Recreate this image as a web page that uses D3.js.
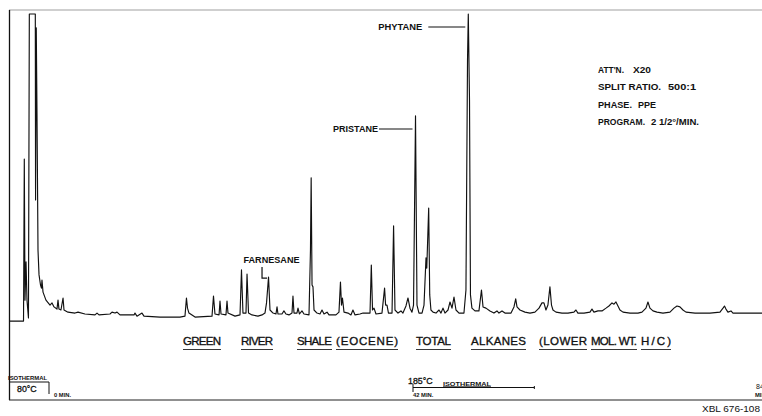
<!DOCTYPE html>
<html>
<head>
<meta charset="utf-8">
<script src="https://cdn.jsdelivr.net/npm/d3@7/dist/d3.min.js"></script>
<style>
  html, body { margin: 0; padding: 0; background: #fff; overflow: hidden; }
  svg { display: block; }
  text { font-family: "Liberation Sans", Arial, sans-serif; fill: #111; }
</style>
</head>
<body>
<svg id="chromatogram" width="762" height="416"></svg>
<script>
// Recorder trace: retention time (min) and response (% of full scale)
const traceMin = [
  -4.62, -2.94, -2.85, -2.77, -2.65, -2.54, -2.37, -2.27, -1.58, -1.55, -1.47, -1.38, -1.27, -1.15,
  -0.98, -0.87, -0.81, -0.69, -0.35, 0.12, 0.35, 0.58, 0.92, 1.04, 1.15, 1.38, 1.62, 1.73, 2.19,
  3.00, 3.35, 4.15, 5.31, 5.54, 5.77, 7.04, 7.27, 7.62, 7.85, 8.19, 9.81, 9.92, 10.15, 10.73, 10.96,
  12.81, 15.11, 15.69, 15.86, 15.98, 16.15, 16.85, 18.81, 18.98, 19.15, 19.62, 19.73, 19.85, 20.42,
  20.54, 20.65, 21.46, 22.04, 22.21, 22.38, 22.73, 22.85, 23.02, 23.42, 24.11, 24.58, 24.92, 25.10,
  25.33, 25.50, 25.85, 26.19, 26.31, 26.42, 26.88, 27.11, 27.34, 27.69, 28.04, 28.15, 28.27, 28.61,
  28.73, 28.90, 29.19, 29.42, 30.00, 30.17, 30.25, 30.35, 30.46, 30.58, 30.92, 31.27, 31.50, 31.73,
  32.08, 32.31, 33.11, 33.46, 33.63, 33.75, 33.86, 34.04, 34.50, 34.84, 35.07, 35.31, 35.88, 36.23,
  37.04, 37.19, 37.33, 37.50, 37.73, 38.42, 38.72, 38.84, 39.00, 39.17, 39.58, 39.76, 39.92, 40.27,
  40.61, 40.84, 41.19, 41.42, 41.65, 41.88, 42.06, 42.29, 42.46, 42.69, 43.04, 43.27, 43.50, 43.59,
  43.81, 43.93, 44.07, 44.31, 44.65, 45.00, 45.23, 45.46, 45.69, 46.04, 46.27, 46.50, 46.73, 46.96,
  47.31, 47.88, 48.11, 48.29, 48.38, 48.52, 48.63, 48.80, 49.15, 49.61, 49.90, 50.08, 50.42, 50.88,
  51.34, 51.69, 51.92, 52.27, 52.61, 53.31, 53.65, 53.85, 54.00, 54.34, 54.92, 55.50, 56.07, 56.54,
  56.88, 57.11, 57.34, 57.57, 57.80, 57.98, 58.15, 58.50, 59.19, 59.88, 60.57, 60.80, 61.03, 61.73,
  62.42, 62.65, 62.88, 63.34, 63.81, 64.27, 64.61, 64.96, 65.19, 65.42, 65.65, 65.88, 66.23, 67.04,
  67.96, 68.42, 68.88, 69.11, 69.34, 69.69, 70.15, 70.84, 71.65, 72.11, 72.46, 72.80, 73.15, 73.50,
  74.54, 76.27, 77.42, 77.77, 77.94, 78.11, 78.34, 78.69, 78.92, 80.88, 82.27
];
const traceResp = [
  0.3, 0.3, 52.9, 7.1, 19.5, 7.1, 1.3, 100, 100, 39.6, 95.5, 65.6, 23.4, 15.3,
  12.0, 11.0, 13.6, 9.7, 7.1, 5.5, 6.2, 4.9, 4.2, 7.1, 4.2, 3.9, 7.8, 3.9, 3.2,
  2.9, 3.2, 2.6, 2.3, 2.9, 2.3, 2.6, 3.2, 2.9, 3.2, 2.3, 2.3, 2.9, 1.9, 2.9, 1.9,
  1.6, 1.6, 1.9, 7.8, 4.5, 2.9, 1.6, 1.9, 8.4, 2.6, 2.3, 6.8, 2.6, 2.3,
  6.8, 2.9, 1.9, 2.3, 16.9, 2.9, 2.9, 15.6, 2.9, 2.3, 1.9, 2.3, 2.9, 6.2,
  14.6, 3.9, 2.9, 2.6, 4.9, 2.6, 2.6, 3.6, 2.6, 2.3, 2.9, 8.4, 2.9, 2.9,
  4.5, 2.6, 3.6, 2.6, 2.3, 23.4, 46.8, 12.0, 11.4, 3.9, 2.9, 2.6, 3.9, 2.6,
  3.2, 2.3, 2.3, 3.2, 13.0, 5.5, 7.8, 3.2, 2.9, 2.3, 3.9, 2.3, 2.6, 2.9,
  2.9, 18.5, 3.9, 4.5, 2.6, 2.9, 11.0, 5.5, 5.5, 2.9, 2.9, 31.2, 3.9, 2.9,
  3.6, 2.9, 5.2, 7.8, 4.5, 3.2, 5.5, 66.9, 5.5, 2.9, 2.9, 5.5, 20.8, 17.5,
  37.0, 8.8, 3.9, 3.2, 2.9, 3.9, 2.9, 4.5, 2.9, 3.9, 6.5, 4.5, 8.1, 3.9,
  2.9, 2.9, 10.4, 85.1, 100, 72.1, 8.8, 4.5, 3.6, 3.6, 10.4, 4.9, 4.5, 3.6,
  2.9, 3.6, 2.9, 3.6, 2.9, 2.9, 4.9, 7.5, 4.9, 3.9, 3.2, 2.9, 3.2, 4.5,
  6.2, 6.2, 3.9, 5.5, 11.4, 5.5, 3.9, 3.2, 2.9, 2.9, 3.2, 3.9, 2.9, 2.9,
  3.2, 4.2, 3.2, 3.6, 3.6, 4.5, 5.2, 6.2, 5.8, 6.5, 5.2, 3.9, 3.2, 2.9,
  2.9, 3.2, 4.5, 6.5, 4.5, 3.6, 3.2, 2.9, 3.2, 4.5, 5.2, 4.9, 3.9, 3.2,
  2.9, 2.9, 3.2, 4.5, 5.2, 4.2, 3.2, 3.6, 2.9, 2.9, 2.9
];

// Identified peaks
const peakNames = ["FARNESANE", "PRISTANE", "PHYTANE"];
const peakMin = [25.33, 42.29, 48.38];
const peakResp = [14.6, 66.9, 100];

// Run conditions
const conditionLabels = ["ATT'N.", "SPLIT RATIO.", "PHASE.", "PROGRAM."];
const conditionValues = ["X20", "500:1", "PPE", "2 1/2°/MIN."];

// Title words
const titleWords = ["GREEN", "RIVER", "SHALE", "(EOCENE)", "TOTAL", "ALKANES", "(LOWER", "MOL. WT.", "H/C)"];

// Temperature program marks
const markerMin = [0, 42];
const markerTemp = ["80°C", "185°C"];
const markerTime = ["0 MIN.", "42 MIN."];
const isothermalEndMin = 56;
const lastMarkMin = 81;

const svg = d3.select("#chromatogram");

const x = d3.scaleLinear().domain([0, 42]).range([49, 413]);
const y = d3.scaleLinear().domain([0, 100]).range([322, 14]);

// Chart paper frame
svg.append("line").attr("x1", 9).attr("x2", 762).attr("y1", 10).attr("y2", 10)
  .attr("stroke", "#777").attr("stroke-width", 0.7);
svg.append("line").attr("x1", 9.5).attr("x2", 9.5).attr("y1", 10).attr("y2", 400)
  .attr("stroke", "#111").attr("stroke-width", 1.3);
svg.append("line").attr("x1", 9).attr("x2", 762).attr("y1", 400).attr("y2", 400)
  .attr("stroke", "#222").attr("stroke-width", 1.1);

// Trace
const points = traceMin.map((t, i) => [t, traceResp[i]]);
const line = d3.line().x(d => x(d[0])).y(d => y(d[1]));
svg.append("path")
  .datum(points)
  .attr("fill", "none")
  .attr("stroke", "#111")
  .attr("stroke-width", 1.15)
  .attr("stroke-linejoin", "round")
  .attr("d", line);

// Peak labels
const lbl = svg.append("g").attr("font-weight", "bold").attr("font-size", 8.6);
// farnesane with bracket
{
  const px = x(peakMin[0]), py = y(peakResp[0]);
  lbl.append("text").attr("x", px - 25).attr("y", py - 14)
    .attr("textLength", 56).attr("lengthAdjust", "spacingAndGlyphs").text(peakNames[0]);
  lbl.append("path").attr("d", `M${px - 6.5},${py - 10}V${py + 1}H${px - 1.5}`)
    .attr("fill", "none").attr("stroke", "#111").attr("stroke-width", 1.2);
}
// pristane and phytane with leader lines
const leadEnd = [0, 37.5, 46];
const leadStart = [0, 36.5, 40];
const labelW = [0, 45, 44];
[1, 2].forEach(i => {
  const px = x(peakMin[i]), py = y(peakResp[i]);
  const ly = py + 13;
  lbl.append("text").attr("x", px - leadEnd[i]).attr("y", ly + 3).attr("text-anchor", "end")
    .attr("textLength", labelW[i]).attr("lengthAdjust", "spacingAndGlyphs").text(peakNames[i]);
  lbl.append("line").attr("x1", px - leadStart[i]).attr("x2", px - 3).attr("y1", ly).attr("y2", ly)
    .attr("stroke", "#111").attr("stroke-width", 1.1);
});

// Run conditions block
const cond = svg.append("g").attr("font-weight", "bold").attr("font-size", 9.2);
const labelLen = [26, 63, 34, 47];
const valueX = [633, 668, 638, 651];
const valueLen = [18, 28, 18, 48];
conditionLabels.forEach((c, i) => {
  const by = 72.5 + i * 17.5;
  cond.append("text").attr("x", 598).attr("y", by)
    .attr("textLength", labelLen[i]).attr("lengthAdjust", "spacingAndGlyphs").text(c);
  cond.append("text").attr("x", valueX[i]).attr("y", by)
    .attr("textLength", valueLen[i]).attr("lengthAdjust", "spacingAndGlyphs").text(conditionValues[i]);
});

// Title with underlined words
const titleX = [183, 241, 297, 336, 416, 471, 539, 591, 641];
const titleW = [38, 32, 35, 62, 35, 55, 48, 46, 30];
const title = svg.append("g");
titleWords.forEach((w, i) => {
  title.append("text").attr("x", titleX[i]).attr("y", 345)
    .attr("font-size", 11.5).attr("stroke", "#111").attr("stroke-width", 0.35)
    .attr("textLength", titleW[i]).attr("lengthAdjust", "spacing").text(w);
  title.append("line").attr("x1", titleX[i]).attr("x2", titleX[i] + titleW[i])
    .attr("y1", 349.5).attr("y2", 349.5).attr("stroke", "#222").attr("stroke-width", 0.9);
});

// Temperature program marks
const prog = svg.append("g").attr("stroke", "#111").attr("stroke-width", 1);
const x0 = x(markerMin[0]);
prog.append("text").attr("x", 8).attr("y", 380).attr("font-size", 5.4).attr("font-weight", "bold")
  .attr("stroke", "none").attr("textLength", 39).attr("lengthAdjust", "spacingAndGlyphs").text("ISOTHERMAL");
prog.append("line").attr("x1", 9).attr("x2", x0).attr("y1", 382).attr("y2", 382);
prog.append("line").attr("x1", x0).attr("x2", x0).attr("y1", 382).attr("y2", 394);
prog.append("text").attr("x", 17).attr("y", 392).attr("font-size", 8.8).attr("stroke", "#111")
  .attr("stroke-width", 0.3).text(markerTemp[0]);
prog.append("text").attr("x", x0 + 5).attr("y", 396.5).attr("font-size", 5.8).attr("font-weight", "bold")
  .attr("stroke", "none").text(markerTime[0]);

const x42 = x(markerMin[1]);
prog.append("text").attr("x", x42 - 5).attr("y", 384).attr("font-size", 8.8).attr("stroke", "#111")
  .attr("stroke-width", 0.3).text(markerTemp[1]);
prog.append("line").attr("x1", x42).attr("x2", x42).attr("y1", 384).attr("y2", 392);
prog.append("line").attr("x1", x42).attr("x2", x(isothermalEndMin)).attr("y1", 387.5).attr("y2", 387.5);
prog.append("line").attr("x1", x(isothermalEndMin)).attr("x2", x(isothermalEndMin)).attr("y1", 386).attr("y2", 389);
prog.append("text").attr("x", x42 + 30).attr("y", 385.5).attr("font-size", 5.4).attr("font-weight", "bold")
  .attr("stroke", "none").attr("textLength", 48).attr("lengthAdjust", "spacingAndGlyphs").text("ISOTHERMAL");
prog.append("line").attr("x1", x42 + 30).attr("x2", x42 + 78).attr("y1", 386.5).attr("y2", 386.5).attr("stroke-width", 0.6);
prog.append("text").attr("x", x42).attr("y", 397).attr("font-size", 5.8).attr("font-weight", "bold")
  .attr("stroke", "none").text(markerTime[1]);

// last mark, cut off by the paper edge as in the original scan
prog.append("text").attr("x", x(lastMarkMin) + 5).attr("y", 389).attr("font-size", 7).attr("stroke", "none").text("84");
prog.append("text").attr("x", x(lastMarkMin) + 4).attr("y", 396.5).attr("font-size", 5.8).attr("font-weight", "bold")
  .attr("stroke", "none").text("MIN.");

// Figure number
svg.append("text").attr("x", 702).attr("y", 412).attr("font-size", 8.2)
  .attr("textLength", 58).attr("lengthAdjust", "spacingAndGlyphs").text("XBL 676-108");
</script>
</body>
</html>
